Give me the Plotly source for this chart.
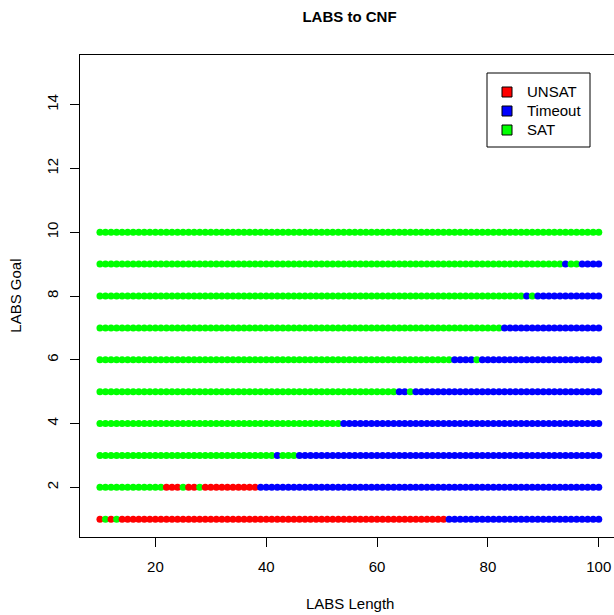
import plotly.graph_objects as go

# ---- data ----
lengths = list(range(10, 101))
goals = list(range(1, 11))
status_names = ["UNSAT", "Timeout", "SAT"]
status_colors = {"UNSAT": "#FF0000", "Timeout": "#0000FF", "SAT": "#00FF00"}

# run-length encoded status per goal along lengths 10..100
goal1_runs = [("UNSAT", 1), ("SAT", 1), ("UNSAT", 1), ("SAT", 1), ("UNSAT", 59), ("Timeout", 28)]
goal2_runs = [("SAT", 12), ("UNSAT", 3), ("SAT", 1), ("UNSAT", 2), ("SAT", 1), ("UNSAT", 10), ("Timeout", 62)]
goal3_runs = [("SAT", 32), ("Timeout", 1), ("SAT", 3), ("Timeout", 55)]
goal4_runs = [("SAT", 44), ("Timeout", 47)]
goal5_runs = [("SAT", 54), ("Timeout", 2), ("SAT", 1), ("Timeout", 34)]
goal6_runs = [("SAT", 64), ("Timeout", 4), ("SAT", 1), ("Timeout", 22)]
goal7_runs = [("SAT", 73), ("Timeout", 18)]
goal8_runs = [("SAT", 77), ("Timeout", 1), ("SAT", 1), ("Timeout", 12)]
goal9_runs = [("SAT", 84), ("Timeout", 1), ("SAT", 2), ("Timeout", 4)]
goal10_runs = [("SAT", 91)]

all_runs = [goal1_runs, goal2_runs, goal3_runs, goal4_runs, goal5_runs,
            goal6_runs, goal7_runs, goal8_runs, goal9_runs, goal10_runs]

x_ticks = [20, 40, 60, 80, 100]
y_ticks = [2, 4, 6, 8, 10, 12, 14]

# ---- build points ----
xs, ys, cols = [], [], []
for g, runs in zip(goals, all_runs):
    seq = []
    for name, n in runs:
        seq += [name] * n
    for L, s in zip(lengths, seq):
        xs.append(L)
        ys.append(g)
        cols.append(status_colors[s])

FONT = "Liberation Sans, Arial, Helvetica, sans-serif"

# plot area in page pixels
PL, PR, PT, PB = 80, 614, 55, 537
PW, PH = PR - PL, PB - PT

def px(xpix):
    return (xpix - PL) / PW

def py(ypix):
    return (PB - ypix) / PH

fig = go.Figure()
fig.add_trace(go.Scatter(
    x=xs, y=ys, mode="markers",
    marker=dict(color=cols, size=7, line=dict(width=0)),
    showlegend=False, hoverinfo="x+y",
))
for name in status_names:
    fig.add_trace(go.Scatter(
        x=[None], y=[None], mode="markers",
        name='<span style="font-size:15px">' + name + '</span>',
        marker=dict(symbol="square", size=10, color=status_colors[name],
                    line=dict(color="black", width=1)),
    ))

fig.update_layout(
    width=614, height=615,
    margin=dict(l=PL, r=0, t=PT, b=615 - PB),
    paper_bgcolor="white", plot_bgcolor="white",
    font=dict(family=FONT, size=15, color="black"),
    title=dict(text="<b>LABS to CNF</b>", x=349.5 / 614, xref="container",
               xanchor="center", y=1 - 17 / 615, yref="container",
               yanchor="middle", font=dict(size=15)),
    legend=dict(x=px(487), xanchor="left", y=py(77.5),
                yanchor="top", borderwidth=0,
                bgcolor="rgba(0,0,0,0)", font=dict(size=12.3), tracegroupgap=0),
    shapes=[dict(type="rect", xref="paper", yref="paper",
                 x0=px(487), x1=px(590), y0=py(147), y1=py(73),
                 line=dict(color="black", width=1), fillcolor="white",
                 layer="above")],
    xaxis=dict(range=[6.4, 102.75], tickvals=x_ticks, ticks="outside",
               ticklen=9, tickcolor="black", showgrid=False, zeroline=False,
               showline=True, linecolor="black", linewidth=1, mirror=True,
               ticklabelstandoff=7),
    yaxis=dict(range=[0.44, 15.56], tickvals=y_ticks, ticks="outside",
               ticklen=9, tickcolor="black", showgrid=False, zeroline=False,
               showline=True, linecolor="black", linewidth=1, mirror=False,
               tickangle=-90, ticklabelstandoff=6),
    annotations=[
        dict(text="LABS Length", x=px(349.5),
             xref="paper", y=py(603), yref="paper",
             xanchor="center", yanchor="middle", showarrow=False,
             font=dict(size=15)),
        dict(text="LABS Goal", x=px(16), xref="paper",
             y=py(295.7), yref="paper", textangle=-90,
             xanchor="center", yanchor="middle", showarrow=False,
             font=dict(size=15)),
    ],
)

fig.write_html(
    "out.html",
    config={"displayModeBar": False},
    post_script="document.body.style.margin='0';document.body.style.overflow='hidden';",
)
